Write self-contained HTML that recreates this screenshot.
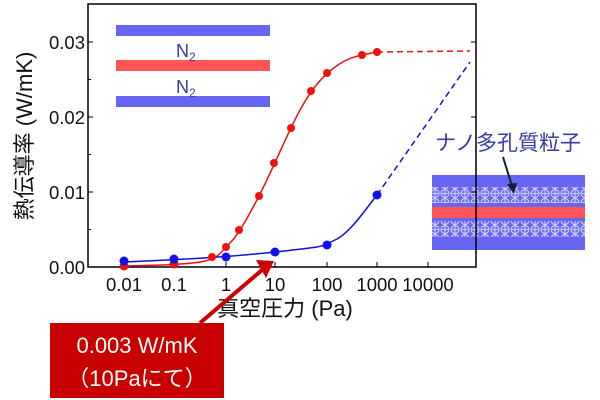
<!DOCTYPE html><html><head><meta charset="utf-8"><style>body{margin:0;background:#fff}svg{display:block}text{font-family:"Liberation Sans","Noto Sans CJK JP",sans-serif}</style></head><body>
<svg width="600" height="400" viewBox="0 0 600 400">
<defs><pattern id="pp" width="10" height="9" patternUnits="userSpaceOnUse"><rect width="10" height="9" fill="#6868f0"/><circle cx="5" cy="4.5" r="4" fill="#7070f4" stroke="#dcdcff" stroke-width="1"/><path d="M5 1v7M2 4.5h6" stroke="#e8e8ff" stroke-width="0.8"/></pattern></defs>
<rect x="432" y="175" width="153" height="75" fill="#6666f2"/>
<rect x="432" y="187" width="153" height="16" fill="url(#pp)"/>
<rect x="432" y="221" width="153" height="16" fill="url(#pp)"/>
<rect x="432" y="207" width="153" height="11" fill="#ff5555"/>
<text x="435" y="150" font-size="21" fill="#3a3aa8">ナノ多孔質粒子</text>
<line x1="503" y1="157" x2="512" y2="186" stroke="#123" stroke-width="2"/><polygon points="507,184 517,183 514,194" fill="#123"/>
<rect x="88" y="4" width="388" height="263" fill="none" stroke="#000" stroke-width="1.5"/>
<g stroke="#000" stroke-width="1">
<line x1="88" y1="42" x2="93" y2="42"/><line x1="88" y1="117" x2="93" y2="117"/><line x1="88" y1="192" x2="93" y2="192"/>
<line x1="88" y1="79.5" x2="91" y2="79.5"/><line x1="88" y1="154.5" x2="91" y2="154.5"/><line x1="88" y1="229.5" x2="91" y2="229.5"/>
<line x1="476" y1="42" x2="471" y2="42"/><line x1="476" y1="117" x2="471" y2="117"/><line x1="476" y1="192" x2="471" y2="192"/>
<line x1="124" y1="267" x2="124" y2="262"/><line x1="174" y1="267" x2="174" y2="262"/><line x1="226" y1="267" x2="226" y2="262"/><line x1="275" y1="267" x2="275" y2="262"/><line x1="327" y1="267" x2="327" y2="262"/><line x1="377" y1="267" x2="377" y2="262"/><line x1="428" y1="267" x2="428" y2="262"/>
</g>
<g font-size="18.5" fill="#111">
<text x="85" y="49" text-anchor="end">0.03</text><text x="85" y="124" text-anchor="end">0.02</text><text x="85" y="199" text-anchor="end">0.01</text><text x="85" y="274" text-anchor="end">0.00</text>
<g text-anchor="middle"><text x="124" y="291">0.01</text><text x="174" y="291">0.1</text><text x="226" y="291">1</text><text x="275" y="291">10</text><text x="327" y="291">100</text><text x="377" y="291">1000</text><text x="428" y="291">10000</text></g>
</g>
<text x="285" y="316" font-size="22" text-anchor="middle" fill="#111">真空圧力 (Pa)</text>
<text transform="translate(32,136) rotate(-90)" font-size="22" text-anchor="middle" fill="#111">熱伝導率 (W/mK)</text>
<rect x="116" y="25" width="154" height="11" fill="#6666f2"/>
<rect x="116" y="60" width="154" height="11" fill="#ff5555"/>
<rect x="116" y="96" width="154" height="11" fill="#6666f2"/>
<text x="176" y="57" font-size="18" fill="#3a3aa8">N<tspan font-size="12" dy="4">2</tspan></text>
<text x="176" y="93" font-size="18" fill="#3a3aa8">N<tspan font-size="12" dy="4">2</tspan></text>
<path d="M124,266 C150,265.5 180,265 200,262 S220,252 229,244 S250,214 262,190 S290,128 300,110 S320,78 335,67 S362,55 377,52" fill="none" stroke="#ee1111" stroke-width="1.5"/>
<line x1="377" y1="52" x2="470" y2="51" stroke="#ee1111" stroke-width="1.5" stroke-dasharray="6,4"/>
<path d="M124,262 C170,260 220,258 275,252 S320,247 335,240 S365,210 377,195" fill="none" stroke="#1111dd" stroke-width="1.5"/>
<line x1="377" y1="195" x2="470" y2="62" stroke="#1111dd" stroke-width="1.5" stroke-dasharray="6,4"/>
<g fill="#ee1111"><circle cx="124" cy="266" r="4.5"/><circle cx="174" cy="264" r="4.5"/><circle cx="212" cy="257" r="4"/><circle cx="226" cy="247" r="4"/><circle cx="239" cy="230" r="4"/><circle cx="259" cy="196" r="4"/><circle cx="274" cy="163" r="4"/><circle cx="291" cy="128" r="4"/><circle cx="311" cy="91" r="4"/><circle cx="327" cy="73" r="4"/><circle cx="362" cy="55" r="4"/><circle cx="377" cy="52" r="4"/></g>
<g fill="#1111ee"><circle cx="124" cy="261" r="4.5"/><circle cx="174" cy="259" r="4.5"/><circle cx="226" cy="257" r="4.5"/><circle cx="275" cy="252" r="4.5"/><circle cx="327" cy="245" r="4.5"/><circle cx="377" cy="195" r="4.5"/></g>
<line x1="200" y1="323" x2="262" y2="270" stroke="#cc0000" stroke-width="4"/>
<polygon points="256,260 274,261 266,278" fill="#cc0000"/>
<rect x="50" y="323" width="174" height="75" fill="#c80000"/>
<text x="137" y="353" font-size="22" fill="#fff" text-anchor="middle">0.003 W/mK</text>
<text x="137" y="386" font-size="22" fill="#fff" text-anchor="middle">（10Paにて）</text>
</svg></body></html>
